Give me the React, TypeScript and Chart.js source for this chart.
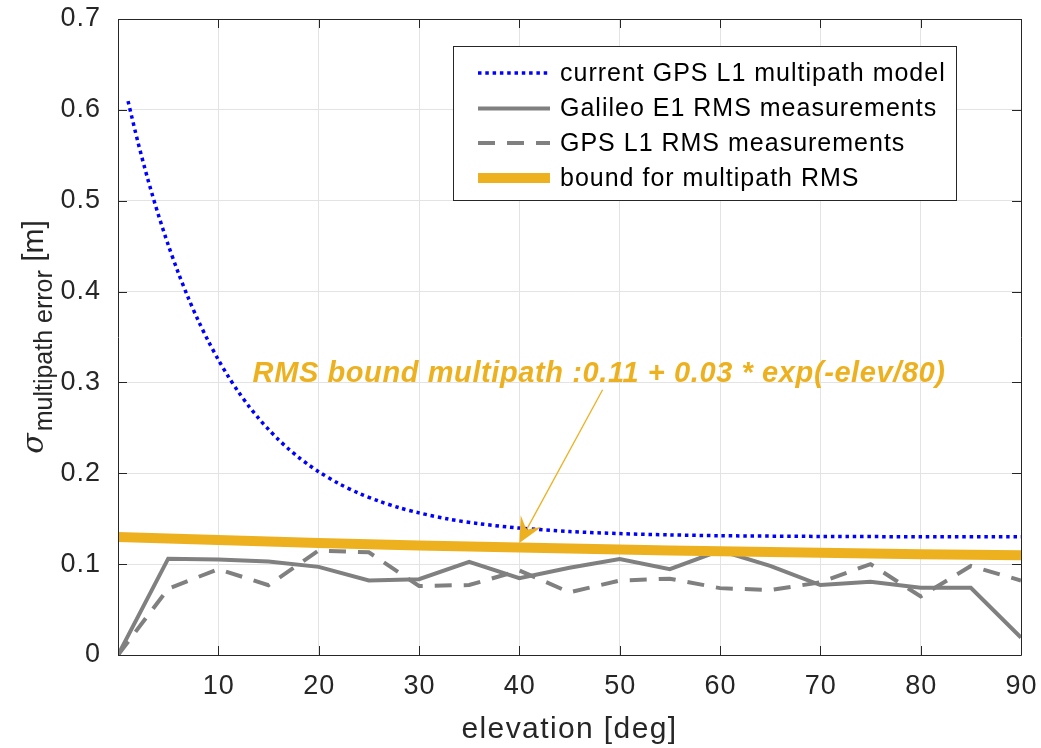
import React, { useEffect, useRef } from 'react';
import { Chart, registerables } from 'chart.js';

Chart.register(...registerables);

// ---- data ----
const MODEL_ELEV = [1, 2, 3, 4, 5, 6, 7, 8, 9, 10, 11, 12, 13, 14, 15, 16, 17, 18, 19, 20, 22, 24, 26, 28, 30, 33, 36, 40, 45, 50, 55, 60, 70, 80, 90];
const MODEL_SIGMA = [0.6096, 0.5639, 0.5226, 0.4853, 0.4515, 0.4209, 0.3932, 0.3681, 0.3455, 0.325, 0.3064, 0.2896, 0.2744, 0.2607, 0.2483, 0.237, 0.2268, 0.2176, 0.2093, 0.2017, 0.1887, 0.1781, 0.1694, 0.1622, 0.1564, 0.1495, 0.1445, 0.1397, 0.1359, 0.1336, 0.1322, 0.1313, 0.1305, 0.1302, 0.1301];

const MEAS_ELEV = [0, 5, 10, 15, 20, 25, 30, 35, 40, 45, 50, 55, 60, 65, 70, 75, 80, 85, 90];
const GALILEO_RMS = [0, 0.106, 0.105, 0.103, 0.097, 0.082, 0.0835, 0.1025, 0.0846, 0.096, 0.1055, 0.0945, 0.115, 0.098, 0.077, 0.0806, 0.074, 0.074, 0.0193];
const GPS_RMS = [0, 0.073, 0.0945, 0.0768, 0.115, 0.113, 0.076, 0.077, 0.093, 0.069, 0.082, 0.084, 0.0736, 0.0714, 0.08, 0.1, 0.0644, 0.098, 0.082];
const BOUND_RMS = [0.13, 0.1282, 0.1265, 0.1249, 0.1234, 0.1219, 0.1206, 0.1194, 0.1182, 0.1171, 0.1161, 0.1151, 0.1142, 0.1133, 0.1125, 0.1117, 0.111, 0.1104, 0.1097];

const X_TICKS = [10, 20, 30, 40, 50, 60, 70, 80, 90];
const Y_TICKS = [0, 0.1, 0.2, 0.3, 0.4, 0.5, 0.6, 0.7];

const SERIES_LABELS = [
  'current GPS L1 multipath model',
  'Galileo E1 RMS measurements',
  'GPS L1 RMS measurements',
  'bound for multipath RMS',
];
const X_TITLE = 'elevation [deg]';
const Y_TITLE_SYMBOL = 'σ';
const Y_TITLE_SUB = 'multipath error';
const Y_TITLE_UNIT = ' [m]';
const ANNOTATION_TEXT = 'RMS bound multipath :0.11 + 0.03 * exp(-elev/80)';
const ANNOTATION_AT = [47.95, 0.301]; // centre x, baseline y (data units)
const ARROW_FROM = [48.3, 0.292];
const ARROW_TO = [40.0, 0.1233];

// ---- styles ----
const BLUE = '#0000ff';
const GRAY = '#808080';
const ORANGE = '#EDB120';
const AXIS = '#262626';
const FONT = '"Liberation Sans", Arial, sans-serif';

const zip = (xs: number[], ys: number[]) => xs.map((x, i) => ({ x, y: ys[i] }));
const fmtY = (v: number) => (v === 0 ? '0' : v.toFixed(1));

const setSpacing = (ctx: any, s: string) => {
  try {
    ctx.letterSpacing = s;
  } catch (e) {
    /* ignore */
  }
};

const decorPlugin = {
  id: 'decor',
  beforeDraw(chart: any) {
    const { ctx, width, height } = chart;
    ctx.save();
    ctx.fillStyle = '#ffffff';
    ctx.fillRect(0, 0, width, height);
    ctx.restore();
  },
  afterDraw(chart: any) {
    const { ctx, chartArea: a, scales } = chart;
    const xs = scales.x;
    const ys = scales.y;
    ctx.save();

    // axes box
    ctx.strokeStyle = AXIS;
    ctx.lineWidth = 1;
    ctx.beginPath();
    ctx.rect(Math.round(a.left) + 0.5, Math.round(a.top) + 0.5, Math.round(a.right - a.left), Math.round(a.bottom - a.top));
    ctx.stroke();

    // inward ticks
    const tl = 9;
    ctx.beginPath();
    X_TICKS.forEach((v) => {
      const px = Math.round(xs.getPixelForValue(v)) + 0.5;
      ctx.moveTo(px, a.bottom);
      ctx.lineTo(px, a.bottom - tl);
      ctx.moveTo(px, a.top);
      ctx.lineTo(px, a.top + tl);
    });
    Y_TICKS.forEach((v) => {
      const py = Math.round(ys.getPixelForValue(v)) + 0.5;
      ctx.moveTo(a.left, py);
      ctx.lineTo(a.left + tl, py);
      ctx.moveTo(a.right, py);
      ctx.lineTo(a.right - tl, py);
    });
    ctx.stroke();

    // tick labels
    ctx.fillStyle = AXIS;
    ctx.font = `27px ${FONT}`;
    setSpacing(ctx, '1px');
    ctx.textAlign = 'center';
    ctx.textBaseline = 'middle';
    X_TICKS.forEach((v) => {
      ctx.fillText(String(v), xs.getPixelForValue(v) + 0.5, a.bottom + 32);
    });
    ctx.textAlign = 'right';
    Y_TICKS.forEach((v) => {
      ctx.fillText(fmtY(v), a.left - 17, ys.getPixelForValue(v));
    });

    // annotation arrow
    setSpacing(ctx, '0px');
    const fx = xs.getPixelForValue(ARROW_FROM[0]);
    const fy = ys.getPixelForValue(ARROW_FROM[1]);
    const tx = xs.getPixelForValue(ARROW_TO[0]);
    const ty = ys.getPixelForValue(ARROW_TO[1]);
    const dx = tx - fx;
    const dy = ty - fy;
    const len = Math.hypot(dx, dy);
    const ux = dx / len;
    const uy = dy / len;
    const nx = -uy;
    const ny = ux;
    const hl = 25;
    const hw = 12;
    ctx.strokeStyle = ORANGE;
    ctx.fillStyle = ORANGE;
    ctx.lineWidth = 1.3;
    ctx.beginPath();
    ctx.moveTo(fx, fy);
    ctx.lineTo(tx - ux * 12, ty - uy * 12);
    ctx.stroke();
    ctx.beginPath();
    ctx.moveTo(tx, ty);
    ctx.lineTo(tx - ux * hl + nx * hw, ty - uy * hl + ny * hw);
    ctx.lineTo(tx - ux * 15, ty - uy * 15);
    ctx.lineTo(tx - ux * hl - nx * hw, ty - uy * hl - ny * hw);
    ctx.closePath();
    ctx.fill();

    // annotation text
    ctx.font = `italic bold 29px ${FONT}`;
    setSpacing(ctx, '0.6px');
    ctx.textAlign = 'center';
    ctx.textBaseline = 'alphabetic';
    ctx.fillStyle = ORANGE;
    ctx.fillText(ANNOTATION_TEXT, xs.getPixelForValue(ANNOTATION_AT[0]), ys.getPixelForValue(ANNOTATION_AT[1]));

    // legend
    setSpacing(ctx, '0px');
    const lb = { l: 453.5, t: 46.5, r: 956.5, b: 200.5 };
    ctx.fillStyle = '#ffffff';
    ctx.fillRect(lb.l, lb.t, lb.r - lb.l, lb.b - lb.t);
    ctx.strokeStyle = AXIS;
    ctx.lineWidth = 1;
    ctx.strokeRect(lb.l, lb.t, lb.r - lb.l, lb.b - lb.t);
    const rows = [73, 108.5, 143, 178];
    const styles = [
      { c: BLUE, w: 3.5, d: [3.5, 3.8] },
      { c: GRAY, w: 4, d: [] },
      { c: GRAY, w: 4, d: [17, 12] },
      { c: ORANGE, w: 10, d: [] },
    ];
    ctx.font = `25px ${FONT}`;
    ctx.textAlign = 'left';
    ctx.textBaseline = 'middle';
    rows.forEach((y, i) => {
      const s = styles[i];
      ctx.strokeStyle = s.c;
      ctx.lineWidth = s.w;
      ctx.setLineDash(s.d);
      ctx.lineCap = 'butt';
      ctx.beginPath();
      ctx.moveTo(478, y);
      ctx.lineTo(550, y);
      ctx.stroke();
      ctx.setLineDash([]);
      ctx.fillStyle = '#000000';
      setSpacing(ctx, '1px');
      ctx.fillText(SERIES_LABELS[i], 560, y + 1);
      setSpacing(ctx, '0px');
    });

    // x title
    ctx.fillStyle = AXIS;
    ctx.font = `30px ${FONT}`;
    setSpacing(ctx, '1.4px');
    ctx.textAlign = 'center';
    ctx.textBaseline = 'alphabetic';
    ctx.fillText(X_TITLE, (a.left + a.right) / 2, 738);
    setSpacing(ctx, '0px');

    // y title (rotated, with subscript)
    const mainFont = `30px ${FONT}`;
    const symFont = `italic 30px "DejaVu Serif", serif`;
    const subFont = `25px ${FONT}`;
    ctx.font = symFont;
    const wSym = ctx.measureText(Y_TITLE_SYMBOL).width;
    ctx.font = subFont;
    const wSub = ctx.measureText(Y_TITLE_SUB).width;
    ctx.font = mainFont;
    const wUnit = ctx.measureText(Y_TITLE_UNIT).width;
    const total = wSym + 2 + wSub + wUnit;
    const cy = (a.top + a.bottom) / 2;
    ctx.translate(43, cy + total / 2);
    ctx.rotate(-Math.PI / 2);
    ctx.textAlign = 'left';
    ctx.textBaseline = 'alphabetic';
    ctx.font = symFont;
    ctx.fillText(Y_TITLE_SYMBOL, 0, 0);
    ctx.font = subFont;
    ctx.fillText(Y_TITLE_SUB, wSym + 2, 9);
    ctx.font = mainFont;
    ctx.fillText(Y_TITLE_UNIT, wSym + 2 + wSub, 0);

    ctx.restore();
  },
};

export default function App() {
  const ref = useRef<HTMLCanvasElement | null>(null);
  useEffect(() => {
    if (!ref.current) return;
    const chart = new Chart(ref.current, {
      type: 'line',
      data: {
        datasets: [
          {
            label: SERIES_LABELS[0],
            data: zip(MODEL_ELEV, MODEL_SIGMA),
            borderColor: BLUE,
            borderWidth: 3.5,
            borderDash: [3.5, 3.8],
            pointRadius: 0,
            tension: 0.3,
            order: 3,
          },
          {
            label: SERIES_LABELS[1],
            data: zip(MEAS_ELEV, GALILEO_RMS),
            borderColor: GRAY,
            borderWidth: 4,
            pointRadius: 0,
            tension: 0,
            order: 2,
          },
          {
            label: SERIES_LABELS[2],
            data: zip(MEAS_ELEV, GPS_RMS),
            borderColor: GRAY,
            borderWidth: 4,
            borderDash: [17, 12],
            pointRadius: 0,
            tension: 0,
            order: 1,
          },
          {
            label: SERIES_LABELS[3],
            data: zip(MEAS_ELEV, BOUND_RMS),
            borderColor: ORANGE,
            borderWidth: 10,
            pointRadius: 0,
            tension: 0,
            order: 0,
          },
        ],
      },
      options: {
        animation: false,
        responsive: false,
        events: [],
        layout: { padding: { left: 0, right: 20, top: 19, bottom: 0 } },
        plugins: { legend: { display: false }, tooltip: { enabled: false } },
        scales: {
          x: {
            type: 'linear',
            min: 0,
            max: 90,
            afterBuildTicks: (s: any) => {
              s.ticks = X_TICKS.map((v) => ({ value: v }));
            },
            afterFit: (s: any) => {
              s.height = 93;
              s.paddingLeft = 0;
              s.paddingRight = 0;
              s.paddingTop = 0;
              s.paddingBottom = 0;
            },
            grid: { color: '#e3e3e3', lineWidth: 1, drawTicks: false },
            border: { display: false },
            ticks: { display: false, autoSkip: false },
          },
          y: {
            type: 'linear',
            min: 0,
            max: 0.7,
            afterBuildTicks: (s: any) => {
              s.ticks = Y_TICKS.map((v) => ({ value: v }));
            },
            afterFit: (s: any) => {
              s.width = 118;
              s.paddingLeft = 0;
              s.paddingRight = 0;
              s.paddingTop = 0;
              s.paddingBottom = 0;
            },
            grid: { color: '#e3e3e3', lineWidth: 1, drawTicks: false },
            border: { display: false },
            ticks: { display: false, autoSkip: false },
          },
        },
      },
      plugins: [decorPlugin],
    } as any);
    return () => chart.destroy();
  }, []);
  return (
    <div style={{ position: 'fixed', left: 0, top: 0, width: 1041, height: 748 }}>
      <canvas ref={ref} width={1041} height={748} style={{ display: 'block' }} />
    </div>
  );
}
